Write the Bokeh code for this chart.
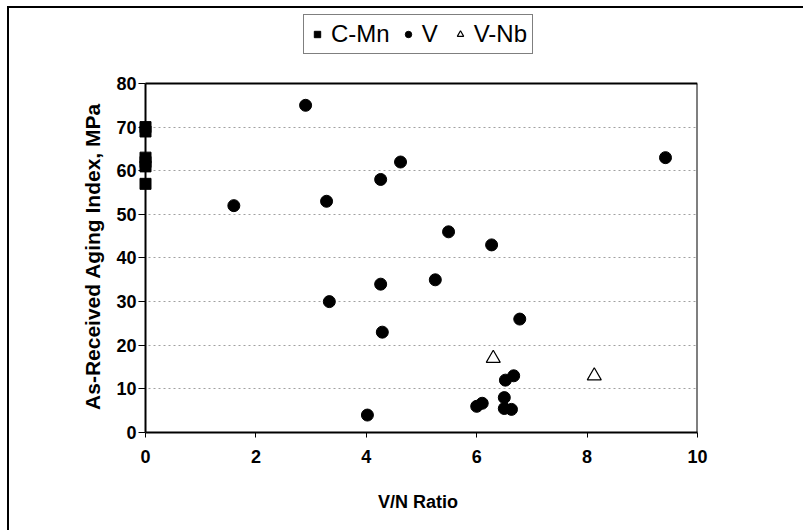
from bokeh.plotting import figure
from bokeh.models import Range1d, Legend, LegendItem, FixedTicker
from bokeh.embed import file_html
from bokeh.resources import INLINE

# Data
cmn_x = [0, 0, 0, 0, 0, 0]
cmn_y = [70, 69, 63, 62, 61, 57]
v_x = [1.6, 2.9, 3.28, 3.33, 4.02, 4.26, 4.26, 4.29, 4.62, 5.25, 5.49, 6.27, 6.78, 9.42,
       6.0, 6.1, 6.52, 6.67, 6.5, 6.5, 6.63]
v_y = [52, 75, 53, 30, 4, 58, 34, 23, 62, 35, 46, 43, 26, 63,
       6, 6.7, 12, 13, 8, 5.5, 5.3]
vnb_x = [6.3, 8.13]
vnb_y = [17, 13]
x_ticks = [0, 2, 4, 6, 8, 10]
y_ticks = [0, 10, 20, 30, 40, 50, 60, 70, 80]

FONT = "Liberation Sans"

x0, x1 = x_ticks[0], x_ticks[-1]
y0, y1 = y_ticks[0], y_ticks[-1]

# frame is a bit larger than the axes so markers at x=0 and the legend are not clipped
p = figure(width=796, height=524, output_backend="svg", toolbar_location=None,
           x_range=Range1d(-0.127, x1), y_range=Range1d(y0, 96.73),
           min_border_left=129, min_border_right=108, min_border_top=2, min_border_bottom=100,
           margin=(6, 0, 0, 7),
           styles={"border-top": "2px solid black", "border-left": "2px solid black"})
p.background_fill_color = "white"
p.border_fill_color = "white"
p.outline_line_color = None

# plot-area border: left axis line, top edge, right edge
p.segment(x0=[x0, x0, x1], y0=[y0, y1, y0], x1=[x0, x1, x1], y1=[y1, y1, y1],
          line_color="black", line_width=2)

r_cmn = p.scatter(cmn_x, cmn_y, marker="square", size=11, fill_color="black", line_color="black")
r_v = p.scatter(v_x, v_y, marker="circle", size=12, fill_color="black", line_color="black")
r_vnb = p.scatter(vnb_x, vnb_y, marker="triangle", size=14, fill_color="white",
                  line_color="black", line_width=1.2)

p.xgrid.grid_line_color = None
p.ygrid.grid_line_color = "#a0a0a0"
p.ygrid.grid_line_dash = "2 3"
p.ygrid.grid_line_width = 1
p.xaxis.ticker = FixedTicker(ticks=x_ticks)
p.yaxis.ticker = FixedTicker(ticks=y_ticks)
p.xaxis.bounds = (x0, x1)

for ax in (p.xaxis[0], p.yaxis[0]):
    ax.axis_line_color = "black"
    ax.axis_line_width = 2
    ax.major_tick_line_color = "black"
    ax.major_tick_out = 5
    ax.major_tick_in = 0
    ax.minor_tick_line_color = None
    ax.major_label_text_font = FONT
    ax.major_label_text_font_style = "bold"
    ax.major_label_text_font_size = "18px"
    ax.major_label_text_color = "black"
    ax.axis_label_text_font = FONT
    ax.axis_label_text_font_style = "bold"
    ax.axis_label_text_color = "black"

p.xaxis.axis_label_text_font_size = "18px"
p.yaxis.axis_label_text_font_size = "21px"

p.yaxis.axis_line_color = None
p.yaxis.major_tick_out = 0
p.yaxis.major_tick_in = 7

p.xaxis.axis_label = "V/N Ratio"
# trailing no-break spaces push the centred label down to the middle of the 0-80 axis
p.yaxis.axis_label = "As-Received Aging Index, MPa" + "\u00a0" * 12
p.xaxis.major_label_standoff = 12
p.xaxis.axis_label_standoff = 26
p.yaxis.major_label_standoff = 2
p.yaxis.axis_label_standoff = 9

legend = Legend(items=[LegendItem(label="C-Mn", renderers=[r_cmn]),
                       LegendItem(label="V", renderers=[r_v]),
                       LegendItem(label="V-Nb", renderers=[r_vnb])],
                orientation="horizontal", location=(165, 378))
legend.label_text_font = FONT
legend.label_text_font_size = "24px"
legend.label_text_color = "black"
legend.border_line_color = "black"
legend.border_line_width = 1
legend.padding = 5
legend.spacing = 10
legend.glyph_width = 16
legend.label_standoff = 6
legend.margin = 0
p.add_layout(legend, "center")

open("out.html", "w").write(file_html(p, INLINE))
